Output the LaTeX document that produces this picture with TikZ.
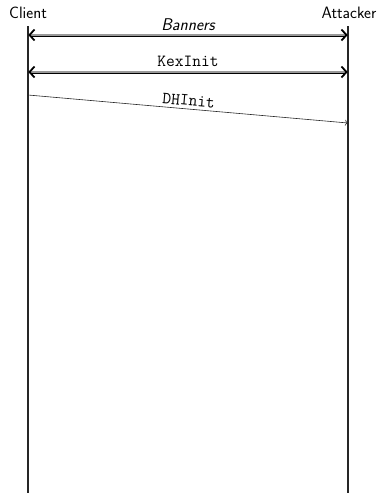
\documentclass[tikz,border=0pt]{standalone}
\usetikzlibrary{arrows.meta}
\begin{document}
\begin{tikzpicture}[x=1pt,y=-1pt,
  actor/.style={font=\fontsize{16.5}{19}\selectfont\sffamily, inner sep=0pt},
  lifeline/.style={line width=1.7pt, black!85},
  bigmsg/.style={draw=black, line width=0.7pt, double=black!40, double distance=1.6pt,
     {Straight Barb[length=5pt,width=11pt,line width=1.8pt]}-{Straight Barb[length=5pt,width=11pt,line width=1.8pt]}, shorten <=0.3pt, shorten >=0.3pt},
  smallmsg/.style={draw=black!85, line width=0.6pt, -{To[length=3pt,width=6pt]}},
  lbl/.style={inner sep=0pt, font=\fontsize{17}{19}\selectfont}
]
\useasboundingbox (0,0) rectangle (382,493);
\node[actor] (client) at (28,13) {Client};
\node[actor] (attacker) at (349,13) {Attacker};
\coordinate (ctop) at (28,26);
\coordinate (cbot) at (28,493);
\coordinate (atop) at (348,26);
\coordinate (abot) at (348,493);
\draw[lifeline] (ctop) -- (cbot);
\draw[lifeline] (atop) -- (abot);
% Banners
\coordinate (b1) at (28,35);
\coordinate (b2) at (348,35);
\draw[bigmsg] (b1) -- node[lbl, above=4pt, font=\fontsize{17}{19}\selectfont\sffamily\itshape] {Banners} (b2);
% KexInit
\coordinate (k1) at (28,72);
\coordinate (k2) at (348,72);
\draw[bigmsg] (k1) -- node[lbl, above=5pt] {\ttfamily KexInit} (k2);
% DHInit
\coordinate (d1) at (28,95);
\coordinate (d2) at (348,123);
\draw[smallmsg] (d1) -- node[lbl, above=3pt, sloped] {\ttfamily DHInit} (d2);
\end{tikzpicture}
\end{document}
